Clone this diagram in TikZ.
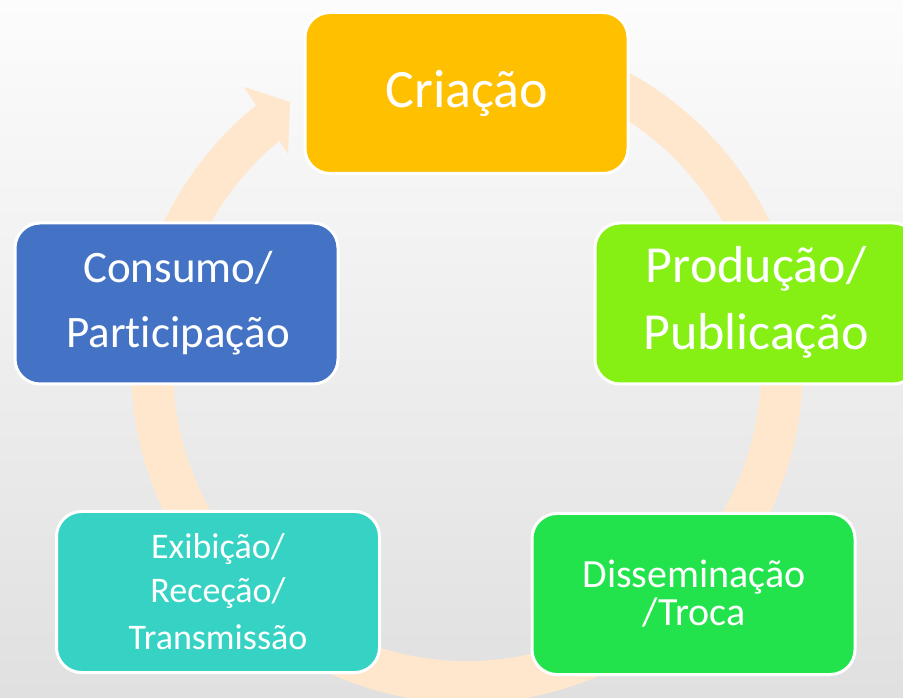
\documentclass[tikz,border=0pt]{standalone}
\usepackage{fontspec}
\setmainfont[Ligatures={NoCommon}]{Carlito}
\definecolor{ringc}{RGB}{255,231,206}
\definecolor{bgtop}{RGB}{252,252,252}
\definecolor{bgbot}{RGB}{224,224,224}
\definecolor{cria}{RGB}{255,192,0}
\definecolor{cons}{RGB}{68,114,196}
\definecolor{prod}{RGB}{134,240,20}
\definecolor{diss}{RGB}{34,227,75}
\definecolor{exib}{RGB}{54,211,197}
\begin{document}
\begin{tikzpicture}[x=1pt,y=1pt,
  box/.style={draw=white, line width=3pt, rounded corners=25pt,
    minimum width=323pt, minimum height=161pt, inner sep=0pt},
  lbl/.style={text=white, anchor=base, inner sep=0pt}]
\clip (0,0) rectangle (903,697);
\shade[top color=bgtop, bottom color=bgbot] (0,0) rectangle (903,697);
% ring arrow
\coordinate (c) at (467,330);
\draw[ringc, line width=42pt] (c) ++(70:315pt) arc[start angle=70, end angle=-232, radius=315pt];
\fill[ringc] (244,610) -- (290,595) -- (288,543) -- cycle;
% boxes
\node[box, fill=cria] (cria) at (466.5,604) {};
\node[box, fill=cons] (cons) at (176.5,393.5) {};
\node[box, fill=prod] (prod) at (756.5,393.5) {};
\node[box, fill=exib] (exib) at (218,105) {};
\node[box, fill=diss] (diss) at (693.5,103) {};
% texts
\node[lbl, font=\fontsize{54}{54}\selectfont] (t1) at (467,589) {Criação};
\node[lbl, font=\fontsize{52}{52}\selectfont] (t2a) at (756,414) {Produção/};
\node[lbl, font=\fontsize{52}{52}\selectfont] (t2b) at (756,347) {Publicação};
\node[lbl, font=\fontsize{45}{45}\selectfont] (t3a) at (178,414) {Consumo/};
\node[lbl, font=\fontsize{45}{45}\selectfont] (t3b) at (178,349) {Participação};
\node[lbl, font=\fontsize{36}{36}\selectfont] (t4a) at (218,139) {Exibição/};
\node[lbl, font=\fontsize{36}{36}\selectfont] (t4b) at (218,95) {Receção/};
\node[lbl, font=\fontsize{36}{36}\selectfont] (t4c) at (218,48) {Transmissão};
\node[lbl, font=\fontsize{40}{40}\selectfont] (t5a) at (694,110) {Disseminação};
\node[lbl, font=\fontsize{40}{40}\selectfont] (t5b) at (694,72) {/Troca};
\end{tikzpicture}
\end{document}
